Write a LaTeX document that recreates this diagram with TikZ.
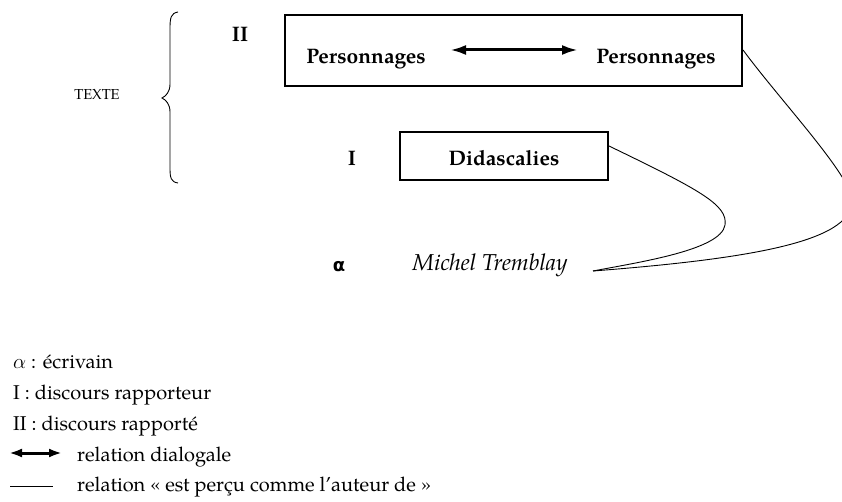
\documentclass[tikz,border=0pt]{standalone}
\usepackage{fontspec}
\setmainfont{texgyrepagella}[Extension=.otf, UprightFont=*-regular, BoldFont=*-bold, ItalicFont=*-italic, BoldItalicFont=*-bolditalic]
\newfontfamily\dejavu{DejaVu Sans}
\usetikzlibrary{arrows.meta}
\begin{document}
\begin{tikzpicture}[x=1pt,y=-1pt,
  box/.style={draw, line width=1.1pt, inner sep=0pt},
  lbl/.style={anchor=base, inner sep=0pt, font=\fontsize{21}{25}\selectfont\bfseries},
  leg/.style={anchor=base west, inner sep=0pt, font=\fontsize{20}{24}\selectfont},
  dia/.style={line width=3pt, {Latex[length=16pt,width=10pt]}-{Latex[length=16pt,width=10pt]}},
  auth/.style={line width=0.9pt}]
\useasboundingbox (0,0) rectangle (842,502);
% brace
\draw[line width=0.9pt] (178,12) .. controls (171,13) and (170,18) .. (170,28) -- (170,84)
  .. controls (170,92) and (166,96) .. (162,98) .. controls (166,100) and (170,104) .. (170,112)
  -- (170,168) .. controls (170,178) and (171,182) .. (178,183);
\node[anchor=base, inner sep=0pt, font=\fontsize{14.5}{17}\selectfont] (texte) at (97,100) {TEXTE};
% boxes
\node[box, minimum width=457pt, minimum height=71pt] (b1) at (513.5,50.5) {};
\node[box, minimum width=208pt, minimum height=48pt] (b2) at (504,156) {};
\node[lbl] (ii) at (240,42) {II};
\node[lbl] (i) at (352,166) {I};
\node[lbl] (p1) at (366,64) {Personnages};
\node[lbl] (p2) at (656,64) {Personnages};
\node[lbl] (did) at (504,166) {Didascalies};
\coordinate (al) at (450,50);
\coordinate (ar) at (578,50);
\draw[dia] (al) -- (ar);
\node[anchor=base, inner sep=0pt, font=\dejavu\bfseries\fontsize{18}{20}\selectfont] (alpha) at (339,272) {α};
\node[anchor=base, inner sep=0pt, font=\fontsize{23}{27}\selectfont\itshape] (mt) at (490,270) {Michel Tremblay};
\coordinate (tip) at (593,271);
\coordinate (d1) at (609,146);
\coordinate (p1r) at (743,50);
\draw[auth] (d1) .. controls (700,190) and (728,205) .. (725,225)
  .. controls (721,250) and (640,262) .. (tip);
\draw[auth] (p1r) .. controls (780,100) and (846,170) .. (852,198)
  .. controls (856,240) and (760,258) .. (tip);
% legend
\node[leg] (l1) at (13,368) {$\alpha$ : écrivain};
\node[leg] (l2) at (13,399) {I : discours rapporteur};
\node[leg] (l3) at (13,430) {II : discours rapporté};
\node[leg] (l4) at (77,461) {relation dialogale};
\node[leg] (l5) at (77,491) {relation « est perçu comme l’auteur de »};
\coordinate (la) at (9,453);
\coordinate (lb) at (62,453);
\draw[line width=3pt, {Latex[length=13pt,width=9pt]}-{Latex[length=13pt,width=9pt]}] (la) -- (lb);
\coordinate (lc) at (10,486);
\coordinate (ld) at (53,486);
\draw[auth] (lc) -- (ld);
\end{tikzpicture}
\end{document}
